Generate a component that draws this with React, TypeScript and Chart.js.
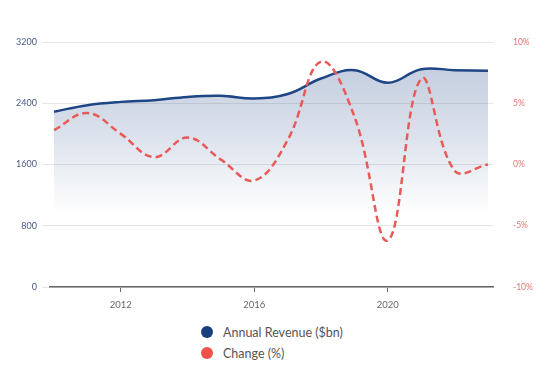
import React, { useEffect, useRef } from "react";
import { Chart, registerables } from "chart.js";

Chart.register(...registerables);

const years = [2010, 2011, 2012, 2013, 2014, 2015, 2016, 2017, 2018, 2019, 2020, 2021, 2022, 2023];
const revenue = [2290, 2375, 2418, 2440, 2483, 2497, 2462, 2520, 2723, 2832, 2667, 2845, 2832, 2823];
const changePct = [2.8, 4.2, 2.5, 0.6, 2.2, 0.4, -1.3, 2.0, 8.4, 3.9, -6.2, 7.0, -0.5, 0.0];
const xTickYears = [2012, 2016, 2020];
const revenueLabel = "Annual Revenue ($bn)";
const changeLabel = "Change (%)";

const BLUE = "#1e4586";
const RED = "#e85a58";
const FONT = "Lato, 'Open Sans', sans-serif";

export default function App() {
  const ref = useRef<HTMLCanvasElement>(null);

  useEffect(() => {
    if (!ref.current) return;
    const chart = new Chart(ref.current, {
      type: "line",
      data: {
        datasets: [
          {
            label: revenueLabel,
            data: years.map((y, i) => ({ x: y, y: revenue[i] })),
            borderColor: BLUE,
            borderWidth: 2.5,
            pointRadius: 0,
            tension: 0.4,
            yAxisID: "y",
            fill: "origin",
            backgroundColor: (ctx: any) => {
              const c = ctx.chart;
              const area = c.chartArea;
              if (!area) return "rgba(30,69,134,0.15)";
              const g = c.ctx.createLinearGradient(0, area.top, 0, area.bottom);
              g.addColorStop(0, "rgba(30,69,134,0.30)");
              g.addColorStop(0.4, "rgba(30,69,134,0.15)");
              g.addColorStop(0.7, "rgba(30,69,134,0.0)");
              g.addColorStop(1, "rgba(255,255,255,0)");
              return g;
            },
            order: 2,
          },
          {
            label: changeLabel,
            data: years.map((y, i) => ({ x: y, y: changePct[i] })),
            borderColor: RED,
            borderWidth: 2.5,
            borderDash: [7, 4],
            pointRadius: 0,
            tension: 0.4,
            yAxisID: "y1",
            fill: false,
            order: 1,
          },
        ],
      },
      options: {
        responsive: false,
        animation: false,
        layout: { padding: { top: 34, left: 0, right: 0, bottom: 0 } },
        plugins: {
          legend: { display: false },
          tooltip: { enabled: false },
        },
        scales: {
          x: {
            type: "linear",
            min: 2009.88,
            max: 2023.15,
            afterBuildTicks: (scale: any) => {
              scale.ticks = xTickYears.map((v) => ({ value: v }));
            },
            afterFit: (scale: any) => {
              scale.height = 31;
            },
            grid: {
              drawOnChartArea: false,
              drawTicks: true,
              tickLength: 5,
              color: "#666",
            },
            border: { display: true, color: "#666", width: 1.5 },
            ticks: {
              padding: 7,
              color: "#666",
              font: { family: FONT, size: 9.5 },
              callback: (v: any) => String(v),
              maxRotation: 0,
            },
          },
          y: {
            position: "left",
            min: 0,
            max: 3200,
            afterFit: (scale: any) => {
              scale.width = 42;
            },
            ticks: {
              stepSize: 800,
              padding: 5,
              color: "#4a5a85",
              font: { family: FONT, size: 9 },
              callback: (v: any) => String(v),
            },
            grid: { color: "#e6e6e6", tickLength: 8 },
            border: { display: false },
          },
          y1: {
            position: "right",
            min: -10,
            max: 10,
            afterFit: (scale: any) => {
              scale.width = 53;
            },
            ticks: {
              stepSize: 5,
              padding: 12,
              color: "#e57373",
              font: { family: FONT, size: 8.5 },
              callback: (v: any) => v + "%",
            },
            grid: { display: false },
            border: { display: false },
          },
        },
      },
    } as any);
    return () => chart.destroy();
  }, []);

  const item = (color: string, text: string, top: number) => (
    <div
      style={{
        position: "absolute",
        left: 193,
        top,
        display: "flex",
        alignItems: "center",
        height: 14,
      }}
    >
      <span
        style={{
          display: "inline-block",
          width: 12,
          height: 12,
          borderRadius: "50%",
          background: color,
          marginRight: 10,
        }}
      />
      <span style={{ fontFamily: FONT, fontSize: 12.5, color: "#555" }}>{text}</span>
    </div>
  );

  return (
    <div style={{ position: "relative", width: 538, height: 352 }}>
      <canvas ref={ref} width={538} height={310} style={{ display: "block" }} />
      {item("#173f80", revenueLabel, 317)}
      {item("#f0504a", changeLabel, 338)}
    </div>
  );
}
